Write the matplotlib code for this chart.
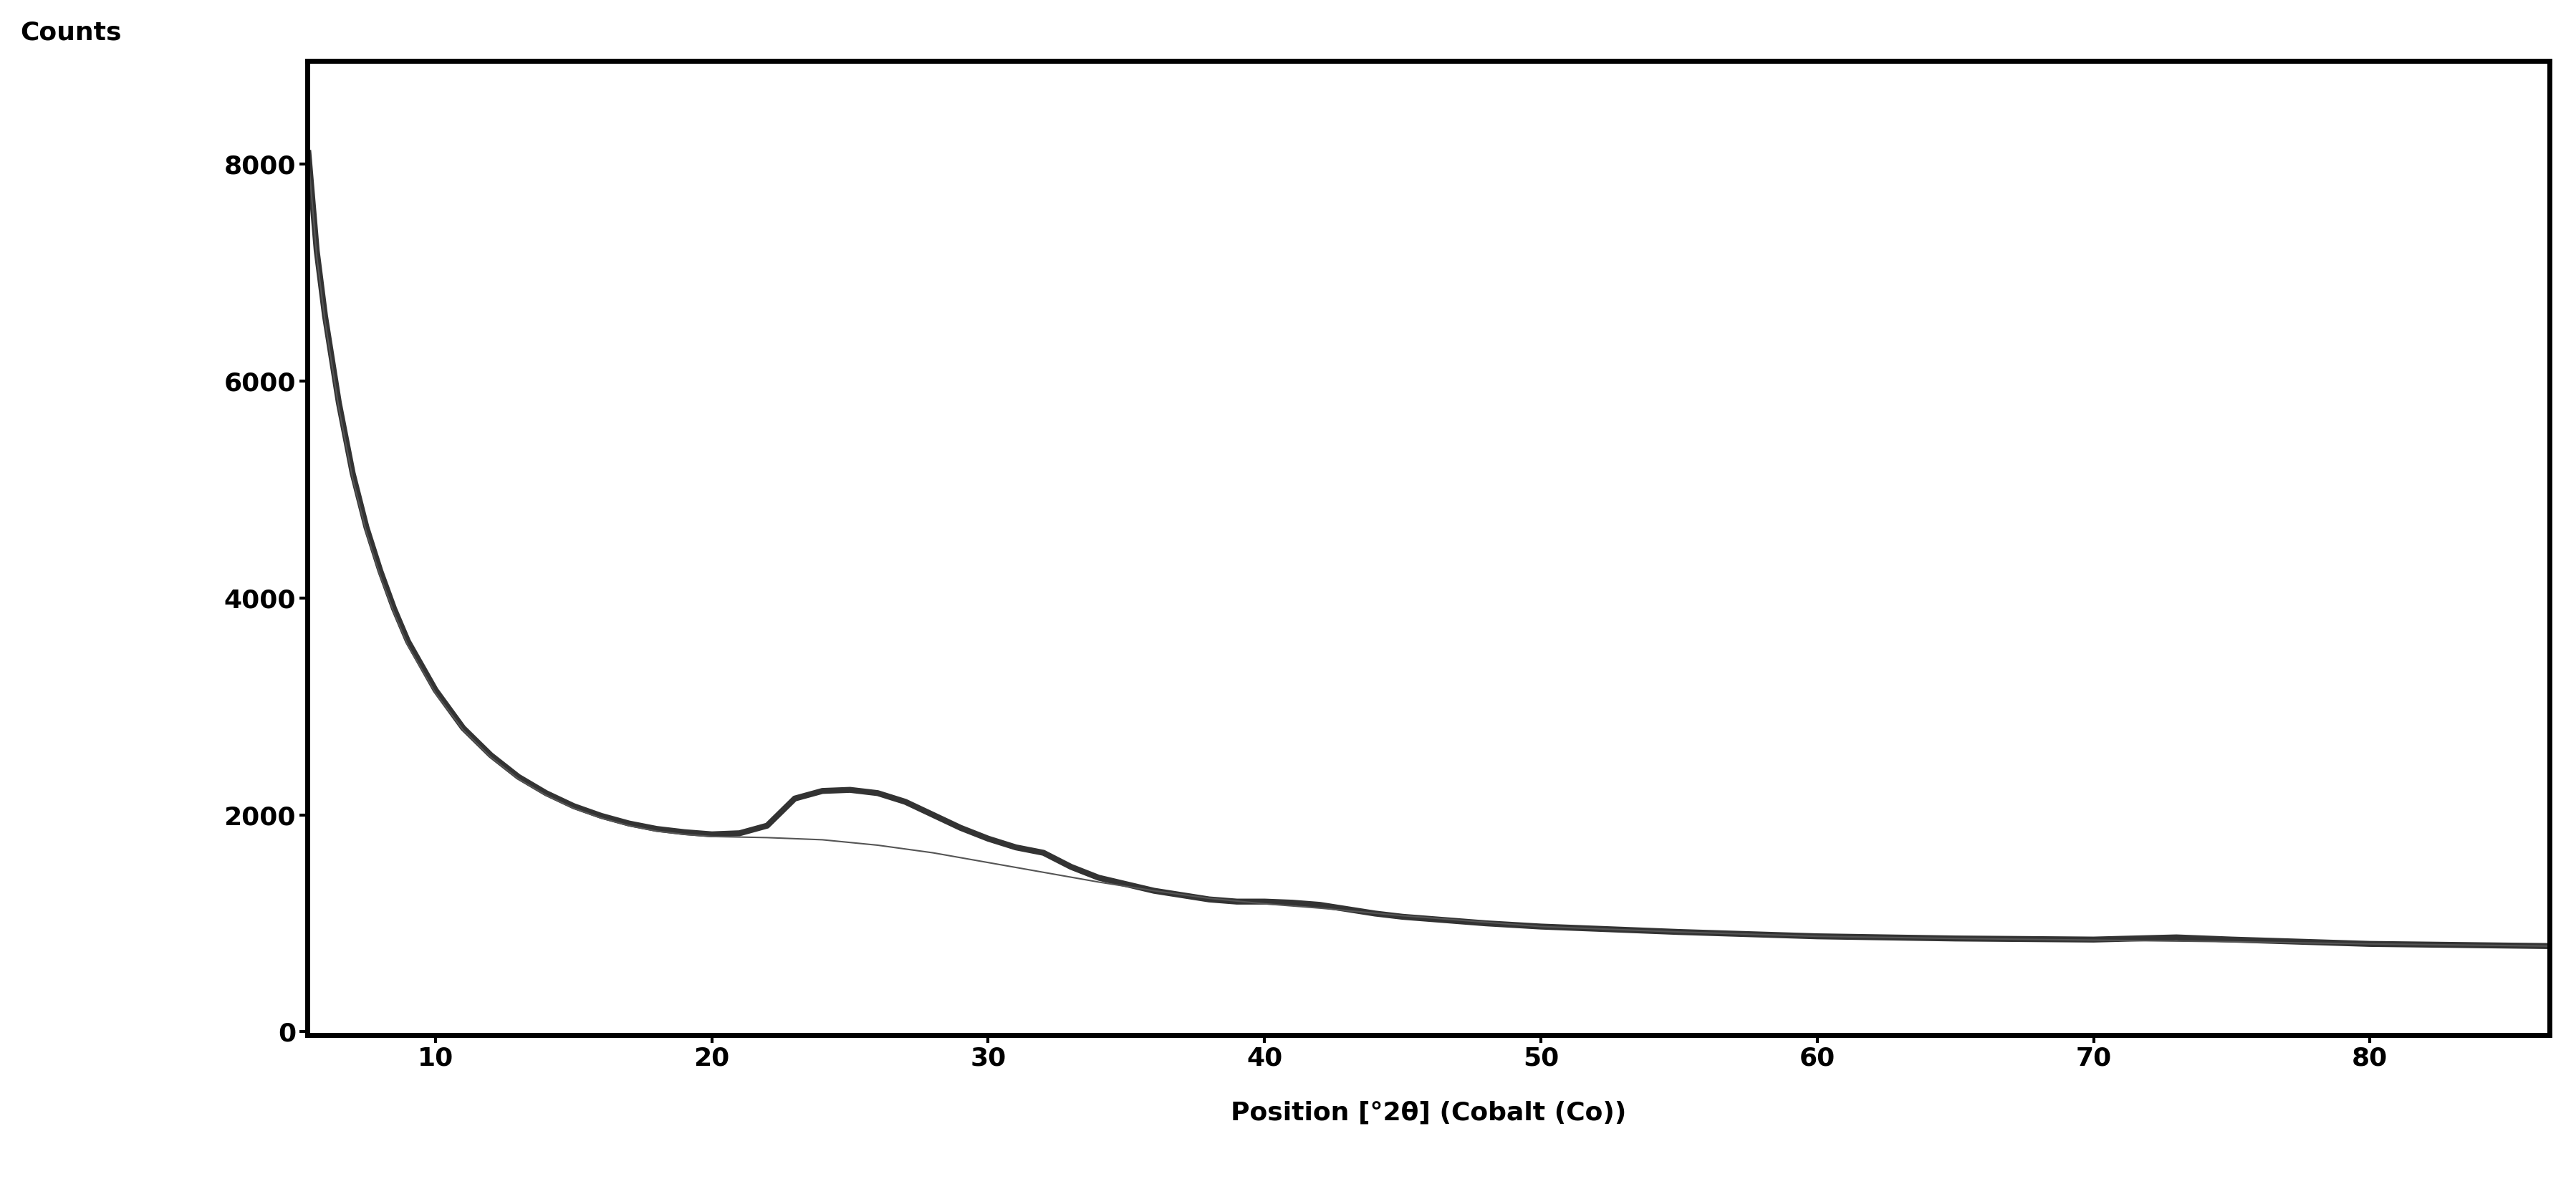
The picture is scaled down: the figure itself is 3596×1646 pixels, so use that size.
import matplotlib
matplotlib.use("Agg")
import matplotlib.pyplot as plt

pos = [5.4, 5.7, 6, 6.5, 7, 7.5, 8, 8.5, 9, 10, 11, 12, 13, 14, 15, 16, 17, 18, 19, 20, 21, 22, 23, 24, 25, 26, 27, 28, 29, 30,
       31, 32, 33, 34, 35, 36, 37, 38, 39, 40, 41, 42, 43, 44, 45, 46, 47, 48, 50, 55, 60, 65, 70, 73, 75, 80, 86.5]
counts = [8100, 7200, 6600, 5800, 5150, 4650, 4250, 3900, 3600, 3150, 2800, 2550, 2350, 2200, 2080, 1990, 1920, 1870, 1840, 1820, 1830,
          1900, 2150, 2220, 2230, 2200, 2120, 2000, 1880, 1780, 1700, 1650, 1520, 1420, 1360, 1300, 1260, 1220,
          1200, 1200, 1190, 1170, 1130, 1090, 1060, 1040, 1020, 1000, 970, 920, 880, 860, 850, 870, 850, 810, 790]
bg_pos = [5.4, 5.7, 6, 6.5, 7, 7.5, 8, 8.5, 9, 10, 11, 12, 13, 14, 15, 16, 17, 18, 19, 20, 21, 22, 24, 26, 28, 30, 32, 34, 36, 38,
          40, 42, 45, 50, 55, 60, 65, 70, 75, 80, 86.5]
bg_counts = [8050, 7150, 6550, 5750, 5100, 4600, 4200, 3860, 3560, 3120, 2780, 2530, 2330, 2180, 2060, 1970, 1900, 1850, 1820, 1800,
             1795, 1790, 1770, 1720, 1650, 1560, 1470, 1380, 1300, 1230, 1180, 1140, 1070, 970, 920, 880, 860,
             845, 830, 810, 790]
xticks = [10, 20, 30, 40, 50, 60, 70, 80]
yticks = [0, 2000, 4000, 6000, 8000]

fig = plt.figure(figsize=(35.96, 16.46), dpi=100)
ax = fig.add_axes([429/3596, 1 - 1445/1646, (3559-429)/3596, (1445-85)/1646])
ax.plot(pos, counts, color="#333333", lw=6)
ax.plot(bg_pos, bg_counts, color="#555555", lw=1.5)
ax.set_xlim(5.36, 86.5)
ax.set_ylim(-30, 8950)
ax.set_xticks(xticks)
ax.set_yticks(yticks)
for s in ax.spines.values():
    s.set_linewidth(5)
ax.tick_params(labelsize=26, width=3, length=8)
for lab in ax.get_xticklabels() + ax.get_yticklabels():
    lab.set_fontweight("bold")
ax.set_xlabel("Position [°2θ] (Cobalt (Co))", fontsize=26, fontweight="bold", labelpad=30)
fig.text(28/3596, 1 - 45/1646, "Counts", fontsize=26, fontweight="bold", va="center")
fig.savefig("out.png", dpi=100)
